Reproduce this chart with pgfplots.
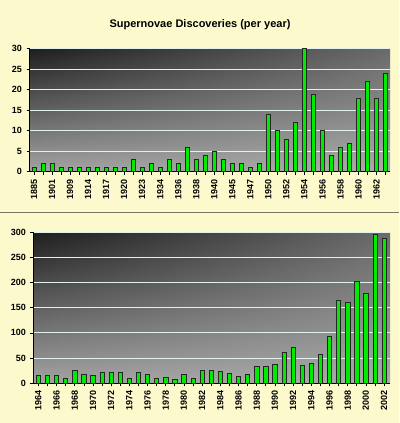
\documentclass[border=0pt]{standalone}
\usepackage{pgfplots}
\pgfplotsset{compat=1.18}
\usetikzlibrary{fadings}
\usepackage{fontspec}
\setmainfont{Liberation Sans}
\definecolor{bgy}{RGB}{252,250,204}
\definecolor{sep}{RGB}{120,120,95}
\definecolor{bargreen}{RGB}{0,235,0}
\definecolor{gridc}{RGB}{225,240,240}
\tikzfading[name=fadeR, left color=transparent!0, right color=transparent!100]
\pgfplotsset{
  snpanel/.style={
    scale only axis,
    ybar, bar width=4.3pt,
    axis lines=left,
    axis line style={-, black, line width=0.8pt},
    tick style={black, line width=0.6pt},
    tick align=outside,
    major tick length=3pt,
    ymajorgrids,
    grid style={gridc, line width=0.9pt},
    /pgf/number format/assume math mode=true,
    yticklabel style={font=\bfseries\fontsize{9}{10}\selectfont, xshift=-1pt},
    xticklabel style={font=\bfseries\fontsize{9}{10}\selectfont, rotate=90, anchor=east, xshift=-1pt},
    axis background/.style={top color=black!58, bottom color=black!33,
      postaction={path fading=fadeR, top color=black!88, bottom color=black!36}},
    ymin=0,
    extra x tick labels={},
    extra x tick style={grid=none},
  }
}
\begin{document}
\begin{tikzpicture}
\path[use as bounding box, fill=bgy] (0,0) rectangle (399pt,-423pt);
\draw[sep, line width=1pt] (0,-212pt) -- (399pt,-212pt);
\node[font=\bfseries\fontsize{11}{13}\selectfont] at (200pt,-25pt) {Supernovae Discoveries (per year)};

\begin{axis}[snpanel,
  at={(29.5pt,-171.7pt)}, anchor=south west,
  width=360.5pt, height=123pt,
  xmin=-0.5, xmax=39.5, ymax=30,
  ytick={0,5,...,30},
  xtick={0,2,...,38},
  xticklabels={1885,1901,1909,1914,1917,1920,1923,1934,1936,1938,1940,1945,1947,1950,1952,1954,1956,1958,1960,1962},
  extra x ticks={1,3,...,39},
]
\addplot[fill=bargreen, draw=black!85, line width=0.6pt] coordinates {
(0,1)(1,2)(2,2)(3,1)(4,1)(5,1)(6,1)(7,1)(8,1)(9,1)
(10,1)(11,3)(12,1)(13,2)(14,1)(15,3)(16,2)(17,6)(18,3)(19,4)
(20,5)(21,3)(22,2)(23,2)(24,1)(25,2)(26,14)(27,10)(28,8)(29,12)
(30,30)(31,19)(32,10)(33,4)(34,6)(35,7)(36,18)(37,22)(38,18)(39,24)};
\end{axis}

\begin{axis}[snpanel,
  at={(33.3pt,-383.3pt)}, anchor=south west,
  width=356.7pt, height=151.3pt,
  xmin=-0.55, xmax=38.65, ymax=300,
  ytick={0,50,...,300},
  xtick={0,2,...,38},
  xticklabels={1964,1966,1968,1970,1972,1974,1976,1978,1980,1982,1984,1986,1988,1990,1992,1994,1996,1998,2000,2002},
  extra x ticks={1,3,...,37},
]
\addplot[fill=bargreen, draw=black!85, line width=0.6pt] coordinates {
(0,15)(1,16)(2,15)(3,10)(4,26)(5,18)(6,16)(7,22)(8,21)(9,21)
(10,10)(11,22)(12,18)(13,9)(14,12)(15,8)(16,18)(17,10)(18,26)(19,26)
(20,24)(21,20)(22,14)(23,18)(24,33)(25,33)(26,38)(27,62)(28,72)(29,36)
(30,40)(31,58)(32,93)(33,164)(34,161)(35,203)(36,178)(37,295)(38,288)};
\end{axis}
\end{tikzpicture}
\end{document}
